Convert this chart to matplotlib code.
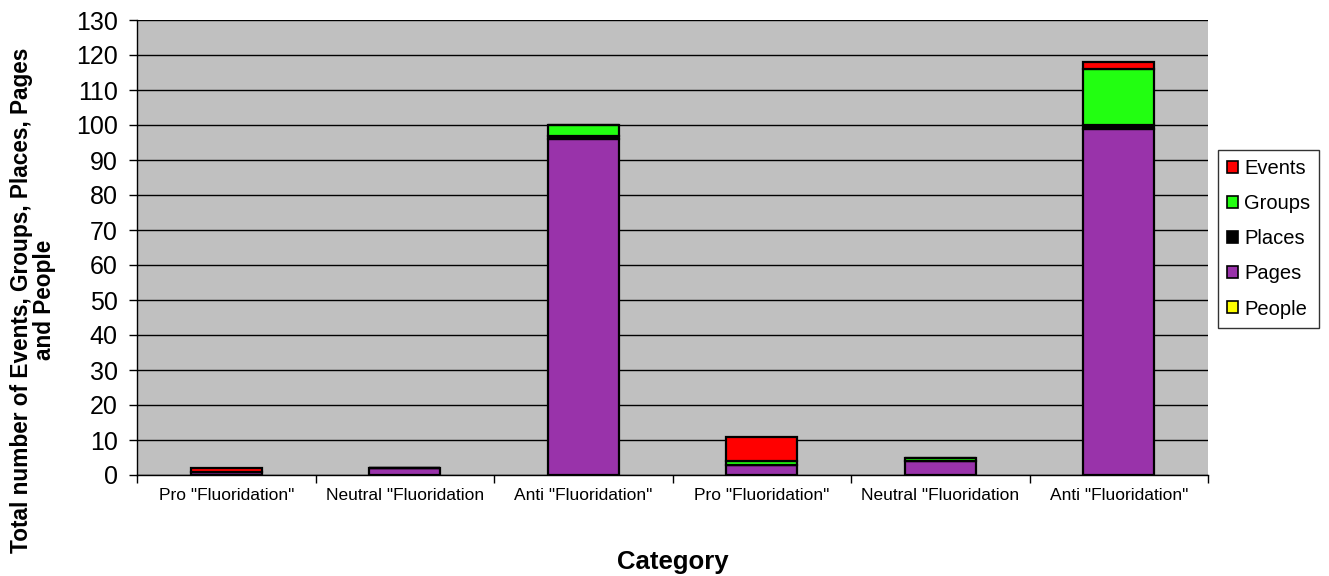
import matplotlib
matplotlib.use("Agg")
import matplotlib.pyplot as plt
from matplotlib.patches import Patch
import numpy as np

categories = ['Pro "Fluoridation"', 'Neutral "Fluoridation', 'Anti "Fluoridation"',
              'Pro "Fluoridation"', 'Neutral "Fluoridation', 'Anti "Fluoridation"']
people = [0, 0, 0, 0, 0, 0]
pages = [1, 2, 96, 3, 4, 99]
places = [0, 0, 1, 0, 0, 1]
groups = [0, 0, 3, 1, 1, 16]
events = [1, 0, 0, 7, 0, 2]

series = [("People", people, "#FFFF00"),
          ("Pages", pages, "#9933AA"),
          ("Places", places, "#000000"),
          ("Groups", groups, "#22FF11"),
          ("Events", events, "#FF0000")]

plt.rcParams['font.family'] = ['Liberation Sans', 'DejaVu Sans']
fig = plt.figure(figsize=(13.29, 5.76), dpi=100)
ax = fig.add_axes([137/1329, 1-475/576, (1208-137)/1329, (475-20)/576])
ax.set_facecolor("#C0C0C0")
x = np.arange(len(categories))
bottom = np.zeros(len(categories))
for name, vals, col in series:
    v = np.array(vals, dtype=float)
    ax.bar(x, v, bottom=bottom, width=0.4, color=col, edgecolor="black", linewidth=1.6, zorder=3)
    bottom += v

ax.set_xlim(-0.5, len(categories)-0.5)
ax.set_ylim(0, 130)
ax.set_yticks(np.arange(0, 131, 10))
ax.yaxis.grid(True, color="black", linewidth=1, zorder=1)
ax.tick_params(axis='y', labelsize=18, length=6, direction='out', width=1, pad=8)
ax.set_xticks(np.arange(-0.5, len(categories), 1.0))
ax.set_xticklabels([])
ax.set_xticks(x, minor=True)
ax.set_xticklabels(categories, minor=True, fontsize=12.5)
ax.tick_params(axis='x', which='minor', length=0, pad=9)
ax.tick_params(axis='x', which='major', length=6, width=1)
for s in ['top', 'right']:
    ax.spines[s].set_visible(False)
ax.spines['left'].set_linewidth(1)
ax.spines['bottom'].set_linewidth(1)

ax.set_xlabel("Category", fontsize=18.5, fontweight='bold', labelpad=34)
fig.text(33/1329, 1-300/576, "Total number of Events, Groups, Places, Pages\nand People",
         fontsize=16.3, fontweight='bold', rotation=90, ha='center', va='center',
         linespacing=1.05, multialignment='center')

handles = [Patch(facecolor=col, edgecolor="black", linewidth=1.2, label=name)
           for name, vals, col in reversed(series)]
leg = fig.legend(handles=handles, loc='upper left', bbox_to_anchor=(1218/1329, 1-150/576),
                 fontsize=14.5, frameon=True, fancybox=False, edgecolor="black",
                 handlelength=0.55, handleheight=0.55, handletextpad=0.3,
                 labelspacing=0.8, borderpad=0.45, borderaxespad=0)
leg.get_frame().set_linewidth(1)

fig.savefig("out.png", dpi=100)
